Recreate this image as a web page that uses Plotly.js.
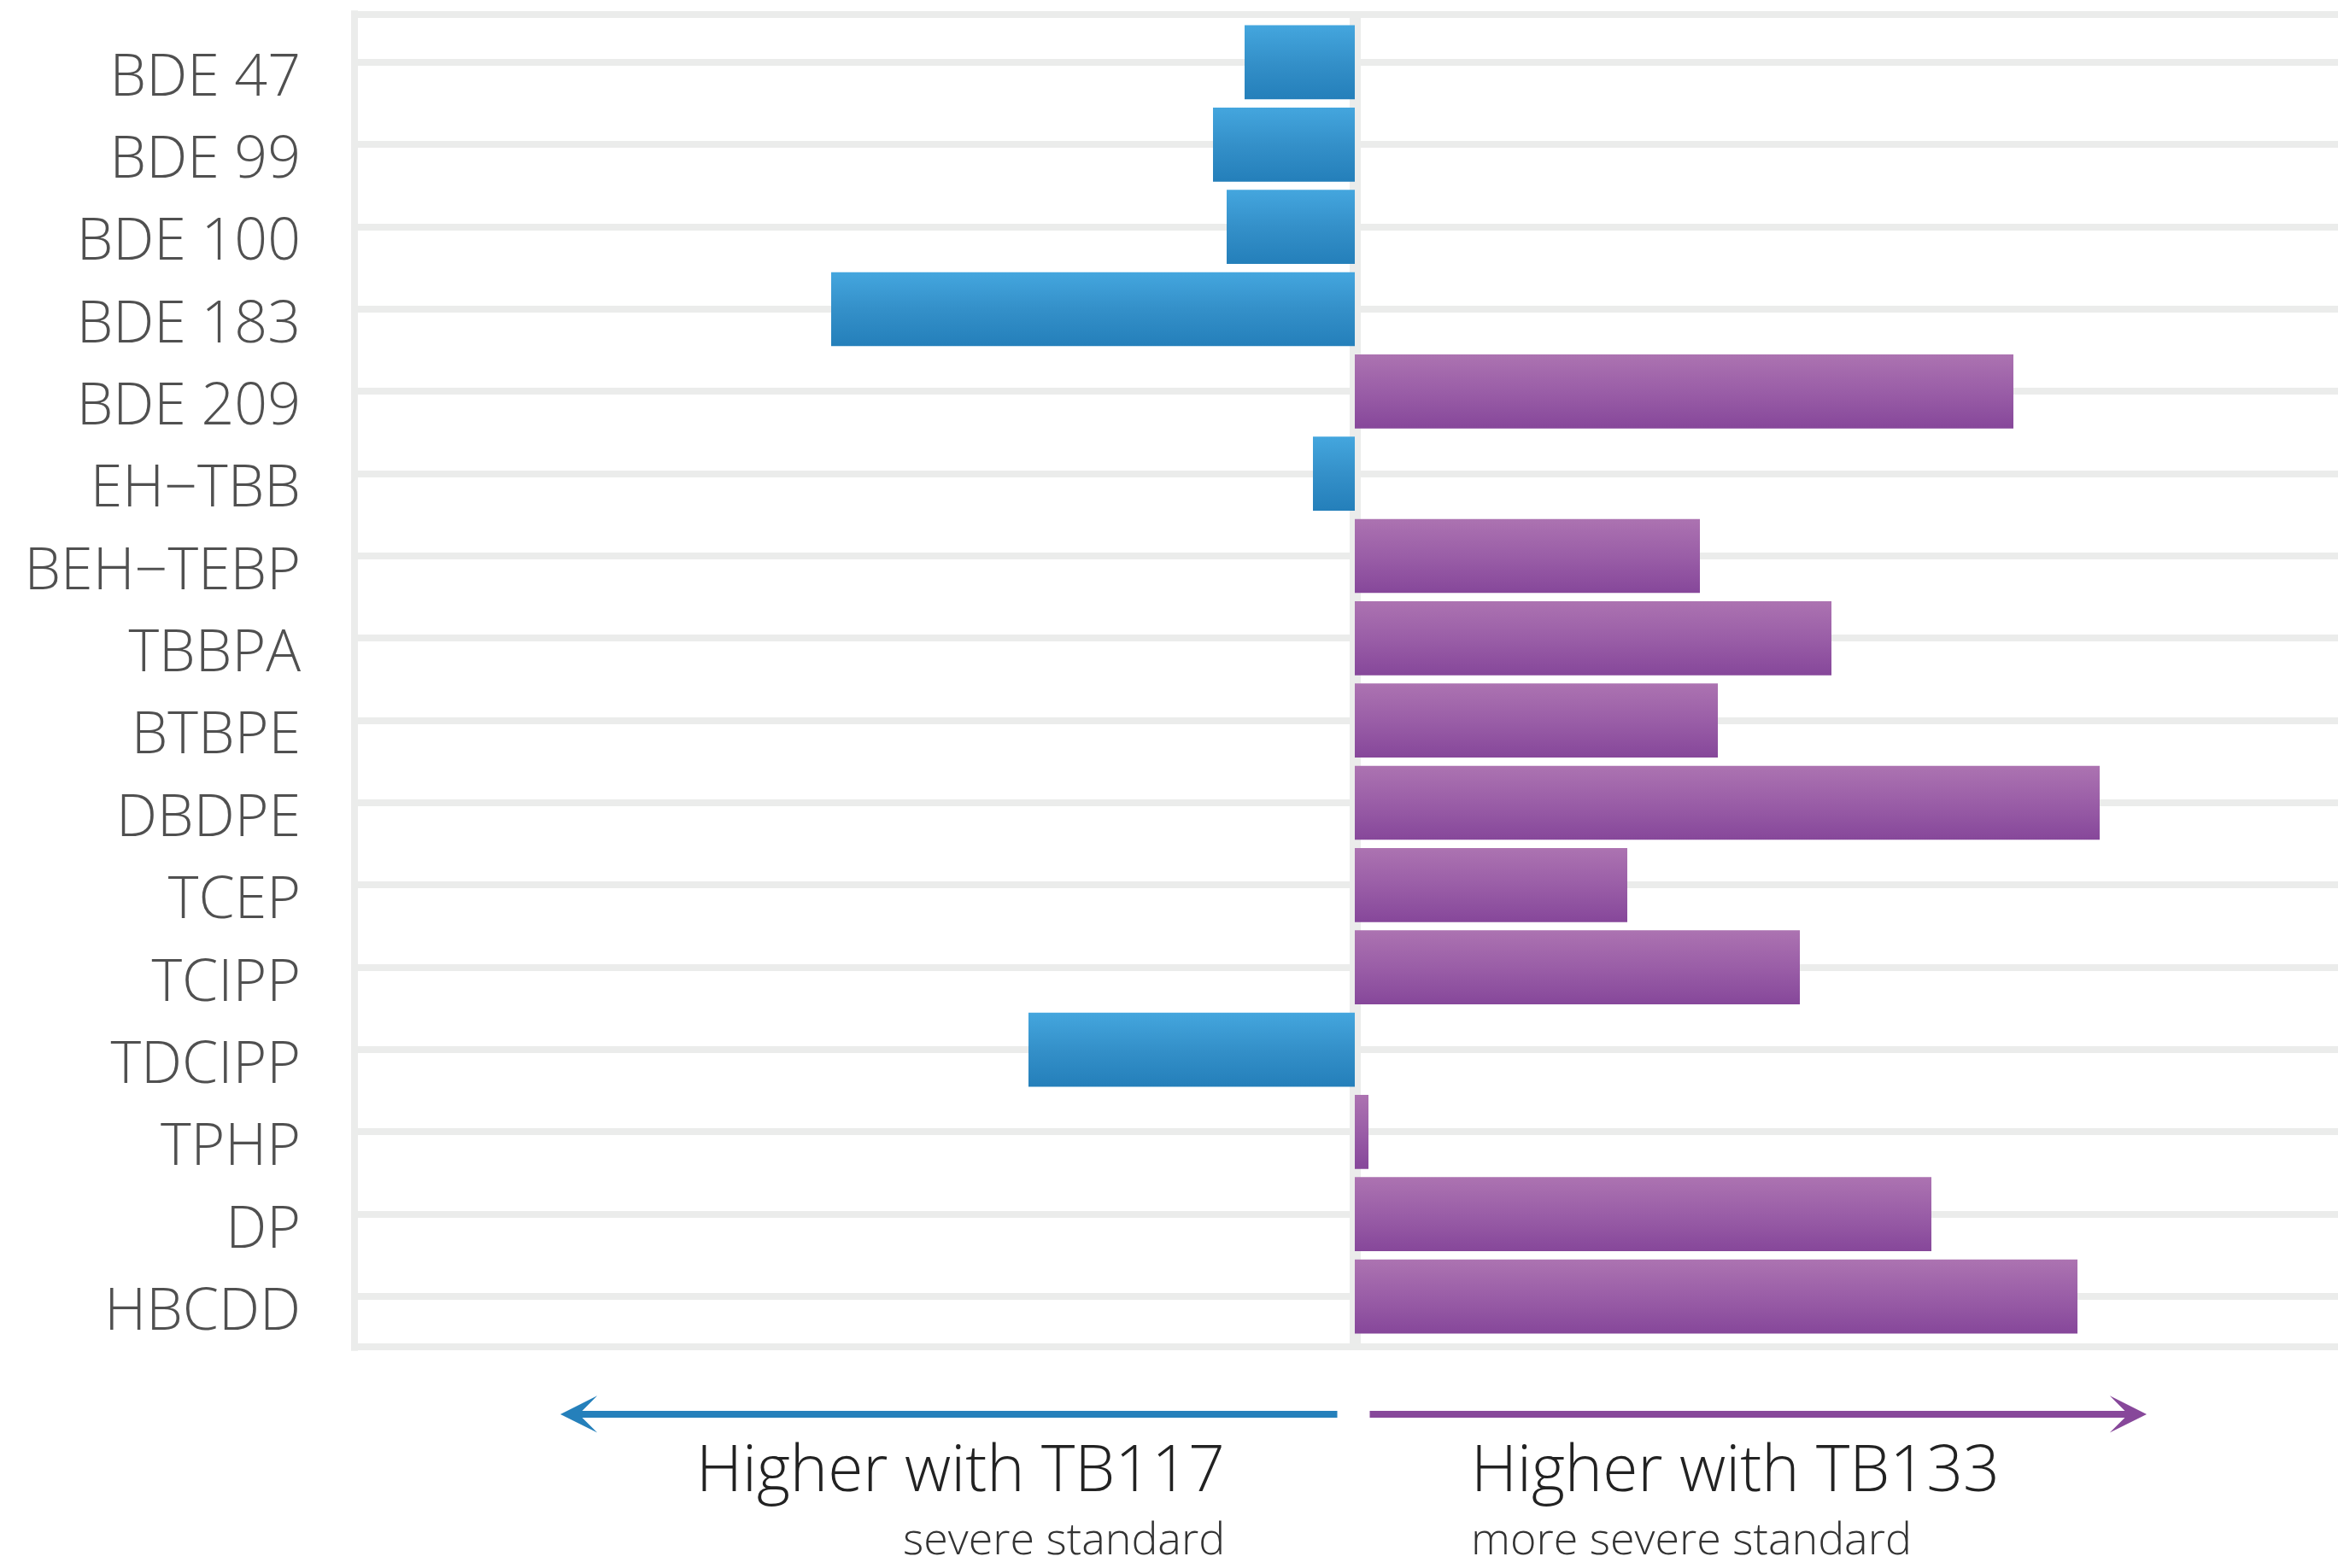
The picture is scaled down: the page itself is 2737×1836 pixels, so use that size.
<!DOCTYPE html>
<html>
<head>
<meta charset="utf-8">
<script src="https://cdn.plot.ly/plotly-3.0.1.min.js"></script>
<style>html,body{margin:0;padding:0;background:#fff;}#chart{width:2737px;height:1836px;}</style>
</head>
<body>
<div id="chart"></div>
<script>
// Chemicals (top to bottom)
const categories = ["BDE 47", "BDE 99", "BDE 100", "BDE 183", "BDE 209", "EH\u2212TBB", "BEH\u2212TEBP",
  "TBBPA", "BTBPE", "DBDPE", "TCEP", "TCIPP", "TDCIPP", "TPHP", "DP", "HBCDD"];
// Difference between TB133 and TB117 (negative = higher with TB117)
const values = [-12.9, -16.6, -15.0, -61.3, 77.1, -4.9, 40.4, 55.8, 42.5, 87.2, 31.9, 52.1, -38.2, 1.6, 67.5, 84.6];
const blueScale = [[0, "#247fba"], [0.5, "#3490c9"], [1, "#44a6de"]];
const purpleScale = [[0, "#86479a"], [0.5, "#9a5ea7"], [1, "#ac73b1"]];
const labelLeft = "Higher with TB117";
const subLeft = "severe standard";
const labelRight = "Higher with TB133";
const subRight = "more severe standard";

const FONT = "Open Sans, Noto Sans, sans-serif";
const GRID = "#ebeceb";
const half = 0.45;

const traces = categories.map((c, i) => {
  const v = values[i];
  return {
    type: "scatter", mode: "lines", fill: "toself",
    x: [0, v, v, 0, 0],
    y: [i - half, i - half, i + half, i + half, i - half],
    line: {width: 0, color: "rgba(0,0,0,0)"},
    fillcolor: v < 0 ? "#3490c9" : "#9a5ea7",
    fillgradient: {type: "vertical", colorscale: v < 0 ? blueScale : purpleScale},
    hoverinfo: "skip", showlegend: false, name: c
  };
});

const layout = {
  width: 2737, height: 1836,
  margin: {l: 415, r: 0, t: 17, b: 259},
  paper_bgcolor: "#fff", plot_bgcolor: "#fff",
  showlegend: false,
  font: {family: FONT, color: "#505050"},
  xaxis: {
    range: [-117.1, 115.1], showticklabels: false, showgrid: false, ticks: "",
    zeroline: true, zerolinewidth: 13, zerolinecolor: GRID, fixedrange: true
  },
  yaxis: {
    range: [15.612, -0.581], tickmode: "array",
    tickvals: categories.map((c, i) => i), ticktext: categories,
    showgrid: true, gridwidth: 8, gridcolor: GRID, zeroline: false,
    ticks: "", ticklabelstandoff: 62, ticklabelshift: -15,
    tickfont: {family: FONT, size: 68, weight: 300, color: "#505050"},
    fixedrange: true
  },
  shapes: [
    {type: "line", xref: "paper", yref: "paper", x0: 0, x1: 0, y0: -0.003, y1: 1.003, line: {color: GRID, width: 8}, layer: "below"},
    {type: "line", xref: "paper", yref: "paper", x0: 0, x1: 1, y0: 1, y1: 1, line: {color: GRID, width: 8}, layer: "below"},
    {type: "line", xref: "paper", yref: "paper", x0: 0, x1: 1, y0: 0, y1: 0, line: {color: GRID, width: 8}, layer: "below"}
  ],
  annotations: [
    {xref: "x", yref: "paper", x: -93.0, y: -0.0506, text: "", showarrow: true,
     axref: "pixel", ayref: "pixel", ax: 911, ay: 0, arrowhead: 3, arrowsize: 0.9, arrowwidth: 8, arrowcolor: "#2580bb"},
    {xref: "x", yref: "paper", x: 92.7, y: -0.0506, text: "", showarrow: true,
     axref: "pixel", ayref: "pixel", ax: -911, ay: 0, arrowhead: 3, arrowsize: 0.9, arrowwidth: 8, arrowcolor: "#87489a"},
    {xref: "x", yref: "paper", x: -15.0, y: -0.0897, xanchor: "right", yanchor: "middle", text: labelLeft, showarrow: false,
     font: {family: FONT, size: 75, weight: 300, color: "#222"}},
    {xref: "x", yref: "paper", x: -15.0, y: -0.1429, xanchor: "right", yanchor: "middle", text: subLeft, showarrow: false,
     font: {family: FONT, size: 52, weight: 300, color: "#333"}},
    {xref: "x", yref: "paper", x: 13.4, y: -0.0897, xanchor: "left", yanchor: "middle", text: labelRight, showarrow: false,
     font: {family: FONT, size: 75, weight: 300, color: "#222"}},
    {xref: "x", yref: "paper", x: 13.4, y: -0.1429, xanchor: "left", yanchor: "middle", text: subRight, showarrow: false,
     font: {family: FONT, size: 52, weight: 300, color: "#333"}}
  ]
};

Plotly.newPlot("chart", traces, layout, {displayModeBar: false, staticPlot: true});
</script>
</body>
</html>
